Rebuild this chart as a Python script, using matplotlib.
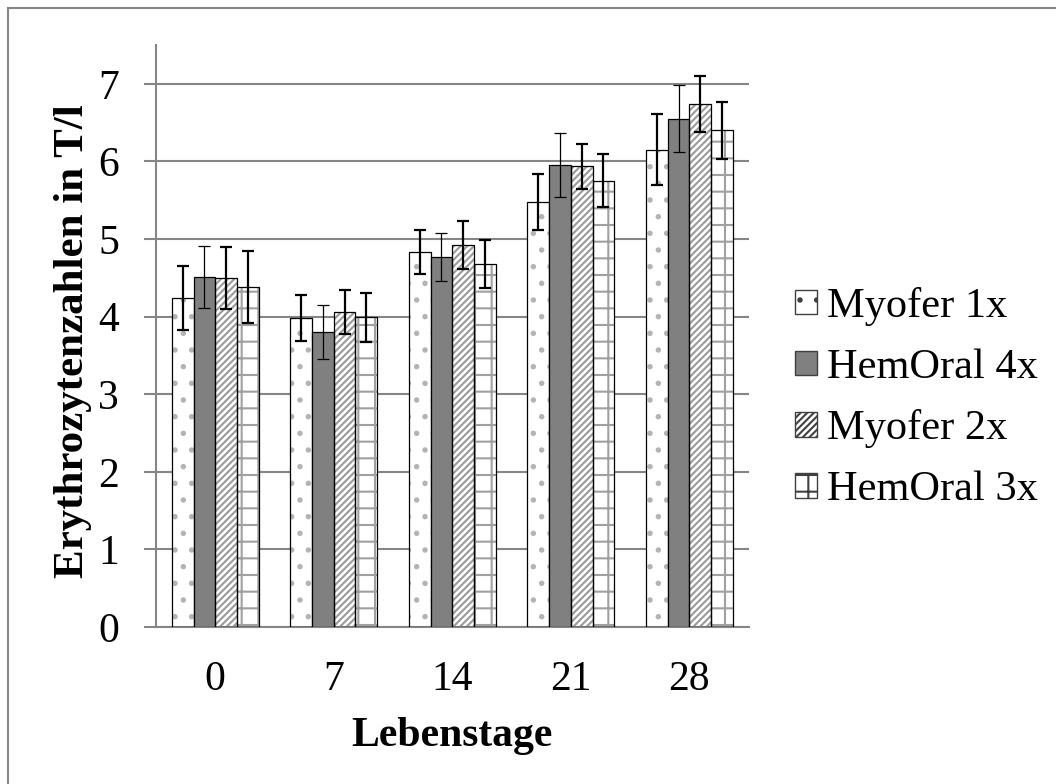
import numpy as np
import matplotlib
matplotlib.use('Agg')
import matplotlib.pyplot as plt
from matplotlib.patches import Rectangle, Patch

plt.rcParams['font.family'] = ['Liberation Serif', 'DejaVu Serif']
plt.rcParams['hatch.linewidth'] = 1.5

days = ['0', '7', '14', '21', '28']
series = ['Myofer 1x', 'HemOral 4x', 'Myofer 2x', 'HemOral 3x']
myofer1 = [4.24, 3.98, 4.83, 5.48, 6.15]
hemoral4 = [4.51, 3.80, 4.77, 5.95, 6.55]
myofer2 = [4.50, 4.06, 4.92, 5.94, 6.74]
hemoral3 = [4.38, 3.99, 4.68, 5.75, 6.40]
err_myofer1 = [0.41, 0.30, 0.28, 0.36, 0.46]
err_hemoral4 = [0.40, 0.35, 0.31, 0.41, 0.43]
err_myofer2 = [0.40, 0.28, 0.31, 0.29, 0.36]
err_hemoral3 = [0.46, 0.32, 0.31, 0.34, 0.37]

values = [myofer1, hemoral4, myofer2, hemoral3]
errors = [err_myofer1, err_hemoral4, err_myofer2, err_hemoral3]
faces = ['white', '#808080', 'white', 'white']
hatches = ['.', None, '/////', '+']
hatch_cols = ['#b4b4b4', None, '#9a9a9a', '#a0a0a0']
err_lw = [1.6, 0.9, 1.6, 1.6]

fig = plt.figure(figsize=(10.56, 7.84), dpi=100)
ax = fig.add_axes([0.1477, 0.2003, 0.5613, 0.7423])

x = np.arange(len(days))
width = 0.183
for i, (vals, errs) in enumerate(zip(values, errors)):
    pos = x + (i - 1.5) * width
    if hatches[i]:
        # hatch pattern drawn in gray, outline drawn in black on top
        ax.bar(pos, vals, width, color=faces[i], edgecolor=hatch_cols[i],
               hatch=hatches[i], linewidth=0, zorder=2)
        ax.bar(pos, vals, width, fill=False, edgecolor='black',
               linewidth=0.9, zorder=3)
    else:
        ax.bar(pos, vals, width, color=faces[i], edgecolor='black',
               linewidth=0.9, zorder=3)
    ax.errorbar(pos, vals, yerr=errs, fmt='none', ecolor='black',
                elinewidth=err_lw[i], capsize=4.3, capthick=err_lw[i], zorder=4)

ax.set_xlim(-0.5, 4.5)
ax.set_ylim(0, 7.5)
ax.set_yticks(range(8))
ax.set_xticks(x)
ax.set_xticklabels(days)
ax.yaxis.grid(True, color='#868686', linewidth=1.5)
ax.set_axisbelow(True)
for s in ['top', 'right']:
    ax.spines[s].set_visible(False)
ax.spines['left'].set_color('#868686')
ax.spines['bottom'].set_color('#868686')
ax.spines['left'].set_linewidth(1.5)
ax.spines['bottom'].set_linewidth(1.5)
ax.tick_params(axis='y', length=8.6, width=1.5, color='#868686', labelsize=30, pad=18)
ax.tick_params(axis='x', length=0, labelsize=30, pad=24)
ax.set_xlabel('Lebenstage', fontsize=30, fontweight='bold', labelpad=13)
ax.set_ylabel('Erythrozytenzahlen in T/l', fontsize=31, fontweight='bold')
ax.yaxis.set_label_coords(-0.108, 0.491)

handles = []
for i in range(4):
    handles.append(Patch(facecolor=faces[i], edgecolor='#404040',
                         hatch=hatches[i], linewidth=1.0))
fig.legend(handles, series, loc='center left', bbox_to_anchor=(0.753, 0.492),
           frameon=False, fontsize=30.5, handlelength=0.52, handleheight=0.52,
           handletextpad=0.24, labelspacing=0.53, borderpad=0, borderaxespad=0)

fig.add_artist(Rectangle((8 / 1056, -0.1), 1.2, 1.1 - 8 / 784,
                         transform=fig.transFigure, fill=False,
                         edgecolor='#868686', linewidth=1.5))

fig.savefig('out.png', dpi=100)
